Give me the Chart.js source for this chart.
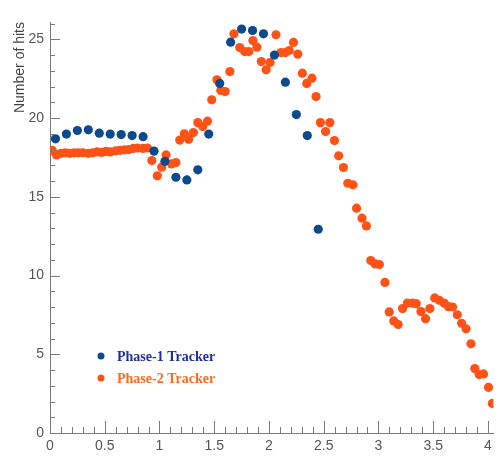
<!DOCTYPE html>
<html lang="en">
<head>
<meta charset="UTF-8">
<title>Number of hits</title>
<style>
  body { margin: 0; background: #fff; }
  #wrap { width: 498px; height: 466px; }
</style>
</head>
<body>
<div id="wrap"><canvas id="cvs" width="498" height="466"></canvas></div>
<script src="https://cdn.jsdelivr.net/npm/chart.js@4.4.1/dist/chart.umd.min.js"></script>
<script>
// Phase-1 tracker (bins of 0.1)
const phase1X = [0.05, 0.15, 0.25, 0.35, 0.45, 0.55, 0.65, 0.75, 0.85, 0.95,
                 1.05, 1.15, 1.25, 1.35, 1.45, 1.55, 1.65, 1.75, 1.85, 1.95,
                 2.05, 2.15, 2.25, 2.35, 2.45];
const phase1Y = [18.68, 18.98, 19.21, 19.25, 19.04, 18.98, 18.95, 18.89, 18.82, 17.9,
                 17.25, 16.24, 16.07, 16.71, 18.98, 22.2, 24.82, 25.65, 25.56, 25.35,
                 24.0, 22.28, 20.22, 18.89, 12.94];

// Phase-2 tracker
const phase2X = [0.02, 0.06, 0.10, 0.14, 0.18, 0.22, 0.26, 0.30, 0.35, 0.39,
                 0.43, 0.47, 0.51, 0.55, 0.60, 0.64, 0.68, 0.72, 0.76, 0.80,
                 0.85, 0.89, 0.93, 0.98, 1.02, 1.06, 1.11, 1.15, 1.185, 1.227,
                 1.266, 1.31, 1.35, 1.395, 1.438, 1.477, 1.525, 1.56, 1.60, 1.643,
                 1.68, 1.733, 1.778, 1.815, 1.853, 1.89, 1.93, 1.974, 2.01, 2.064,
                 2.11, 2.15, 2.185, 2.224, 2.263, 2.305, 2.345, 2.393, 2.43, 2.47,
                 2.517, 2.556, 2.598, 2.637, 2.68, 2.72, 2.767, 2.80, 2.85, 2.89,
                 2.93, 2.97, 3.008, 3.059, 3.098, 3.14, 3.18, 3.22, 3.264, 3.31,
                 3.345, 3.388, 3.43, 3.47, 3.514, 3.556, 3.60, 3.64, 3.677, 3.72,
                 3.76, 3.80, 3.845, 3.88, 3.92, 3.96, 4.005, 4.04];
const phase2Y = [17.95, 17.66, 17.76, 17.79, 17.76, 17.79, 17.79, 17.79, 17.76, 17.79,
                 17.85, 17.82, 17.88, 17.85, 17.92, 17.95, 17.98, 18.0, 18.07, 18.1,
                 18.07, 18.1, 17.3, 16.33, 16.88, 17.66, 17.09, 17.17, 18.6, 19.0,
                 18.66, 19.08, 19.71, 19.46, 19.8, 21.16, 22.43, 21.75, 21.68, 22.95,
                 25.35, 24.48, 24.22, 24.22, 24.92, 24.5, 23.59, 23.06, 23.53, 25.29,
                 24.16, 24.16, 24.29, 24.8, 24.06, 22.85, 22.2, 22.53, 21.37, 19.71,
                 19.14, 19.71, 18.57, 17.6, 16.86, 15.86, 15.76, 14.28, 13.64, 13.15,
                 10.95, 10.74, 10.7, 9.56, 7.69, 7.12, 6.89, 7.9, 8.25, 8.25,
                 8.21, 7.71, 7.26, 7.9, 8.58, 8.43, 8.25, 8.02, 8.0, 7.51,
                 6.97, 6.62, 5.66, 4.09, 3.71, 3.75, 2.9, 1.88];

const xTicks = [0, 0.5, 1, 1.5, 2, 2.5, 3, 3.5, 4];
const yTicks = [0, 5, 10, 15, 20, 25];

const blue = '#0d4a8c';
const orange = '#ff5216';
const axisCol = '#7a7a7a';

function pts(xs, ys) {
  return xs.map((x, i) => ({ x: x, y: ys[i] }));
}

// ROOT-like inward ticks + legend inside the frame
const frameDeco = {
  id: 'frameDeco',
  afterDraw(chart) {
    const c = chart.ctx;
    const xs = chart.scales.x, ys = chart.scales.y;
    const ca = chart.chartArea;
    c.save();
    c.strokeStyle = axisCol;
    c.lineWidth = 1;
    c.beginPath();
    for (let i = 0; i <= 40; i++) {
      const v = i / 10;
      const px = Math.round(xs.getPixelForValue(v)) + 0.5;
      const len = (i % 5 === 0) ? 12 : 6;
      c.moveTo(px, ca.bottom);
      c.lineTo(px, ca.bottom - len);
    }
    for (let v = 0; v <= 26; v++) {
      const py = Math.round(ys.getPixelForValue(v)) + 0.5;
      const len = (v % 5 === 0) ? 10 : 5;
      c.moveTo(ca.left, py);
      c.lineTo(ca.left + len, py);
    }
    c.stroke();

    // legend
    const lx = ca.left + 51, ly = ca.top + 334;
    chart.data.datasets.forEach((ds, i) => {
      const y = ly + i * 22;
      c.fillStyle = ds.backgroundColor;
      c.beginPath();
      c.arc(lx, y, 3.5, 0, Math.PI * 2);
      c.fill();
      c.fillStyle = ds.legendText;
      c.font = 'bold 14px "Liberation Serif", "Times New Roman", serif';
      c.textBaseline = 'middle';
      c.fillText(ds.label, lx + 16, y + 1);
    });
    c.restore();
  }
};

new Chart(document.getElementById('cvs'), {
  type: 'scatter',
  data: {
    datasets: [
      { label: 'Phase-1 Tracker', data: pts(phase1X, phase1Y), backgroundColor: blue,
        legendText: '#1f2e9c', pointRadius: 4.6, borderWidth: 0 },
      { label: 'Phase-2 Tracker', data: pts(phase2X, phase2Y), backgroundColor: orange,
        legendText: '#ff6a1c', pointRadius: 4.6, borderWidth: 0 }
    ]
  },
  options: {
    responsive: false,
    animation: false,
    layout: { padding: { top: 22, right: 0, left: 0, bottom: 0 } },
    plugins: { legend: { display: false }, tooltip: { enabled: false } },
    scales: {
      x: {
        type: 'linear', min: 0, max: 4.05,
        afterBuildTicks: s => { s.ticks = xTicks.map(v => ({ value: v })); },
        afterFit: s => { s.height = 33; },
        grid: { display: false, drawTicks: false },
        border: { display: true, color: axisCol },
        ticks: { padding: 5, color: '#555', font: { family: '"Liberation Sans", Arial, sans-serif', size: 14 },
                 maxRotation: 0, autoSkip: false, callback: v => String(v) }
      },
      y: {
        type: 'linear', min: 0, max: 26.1,
        afterBuildTicks: s => { s.ticks = yTicks.map(v => ({ value: v })); },
        afterFit: s => { s.width = 50; },
        grid: { display: false, drawTicks: false },
        border: { display: true, color: axisCol },
        ticks: { padding: 6, color: '#555', font: { family: '"Liberation Sans", Arial, sans-serif', size: 14 },
                 autoSkip: false, callback: v => String(v) },
        title: { display: true, text: 'Number of hits', align: 'end', color: '#444',
                 padding: { top: 12, bottom: 0 },
                 font: { family: '"Liberation Sans", Arial, sans-serif', size: 14 } }
      }
    }
  },
  plugins: [frameDeco]
});
</script>
</body>
</html>
